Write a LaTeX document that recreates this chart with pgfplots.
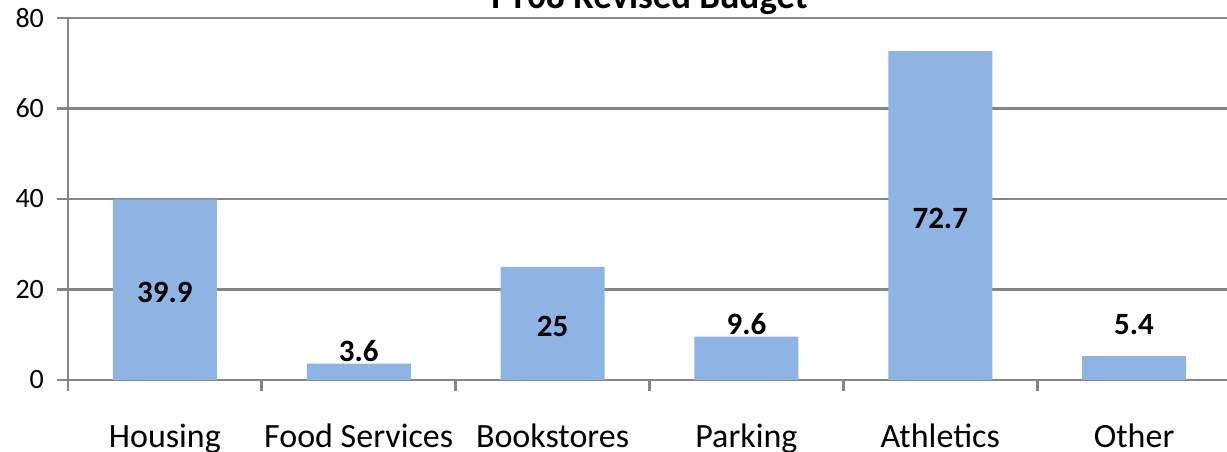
\documentclass[border=0pt]{standalone}
\usepackage{fontspec}
\setmainfont{Carlito}
\usepackage{pgfplots}
\pgfplotsset{compat=1.18}
\definecolor{barblue}{RGB}{142,180,227}
\definecolor{linegray}{RGB}{134,134,134}
\begin{document}
\begin{tikzpicture}
\begin{axis}[
    at={(0,0)}, anchor=south west,
    scale only axis,
    width=581.5pt, height=181pt,
    xmin=-0.5, xmax=5.5,
    ymin=0, ymax=80,
    ytick={0,20,40,60,80},
    xtick={0,...,5},
    xticklabels={Housing,Food Services,Bookstores,Parking,Athletics,Other},
    minor xtick={-0.5,0.5,1.5,2.5,3.5,4.5},
    major x tick style={draw=none},
    tick align=outside,
    major tick length=5.5pt,
    minor tick length=5.5pt,
    axis x line*=bottom,
    axis y line*=left,
    axis line style={linegray, line width=1.4pt},
    every tick/.style={linegray, line width=1.4pt},
    ymajorgrids,
    grid style={linegray, line width=1.4pt},
    /pgf/number format/assume math mode=true,
    yticklabel style={font=\fontsize{14}{16}\selectfont, xshift=-3pt},
    xticklabel style={font=\fontsize{17}{20}\selectfont, anchor=base, yshift=-28pt},
    title={FY08 Revised Budget},
    title style={font=\fontsize{18.4}{21}\selectfont\bfseries, at={(0.5,1)}, anchor=base, yshift=-1pt},
    ybar, bar width=52pt, bar shift=0pt,
    clip=false,
    lbl/.style={every node near coord/.append style={font=\fontsize{15.5}{18}\selectfont\bfseries, anchor=base, yshift=#1}},
]
% bars whose label sits in the middle
\addplot[fill=barblue, draw=none,
    visualization depends on={y \as \rawy},
    nodes near coords,
    every node near coord/.append style={font=\fontsize{15.5}{18}\selectfont\bfseries,
        anchor=center, shift={(axis direction cs:0,-\rawy/2)}, yshift=-1.5pt}]
    coordinates {(0,39.9) (2,25) (4,72.7)};
% small bars whose label sits above
\addplot[fill=barblue, draw=none, nodes near coords, lbl=1pt]
    coordinates {(1,3.6) (3,9.6)};
\addplot[fill=barblue, draw=none, nodes near coords, lbl=10.5pt]
    coordinates {(5,5.4)};
\end{axis}
\pgfresetboundingbox
\path[use as bounding box] (-34pt,-35.5pt) rectangle (579.5pt,190pt);
\end{tikzpicture}
\end{document}
